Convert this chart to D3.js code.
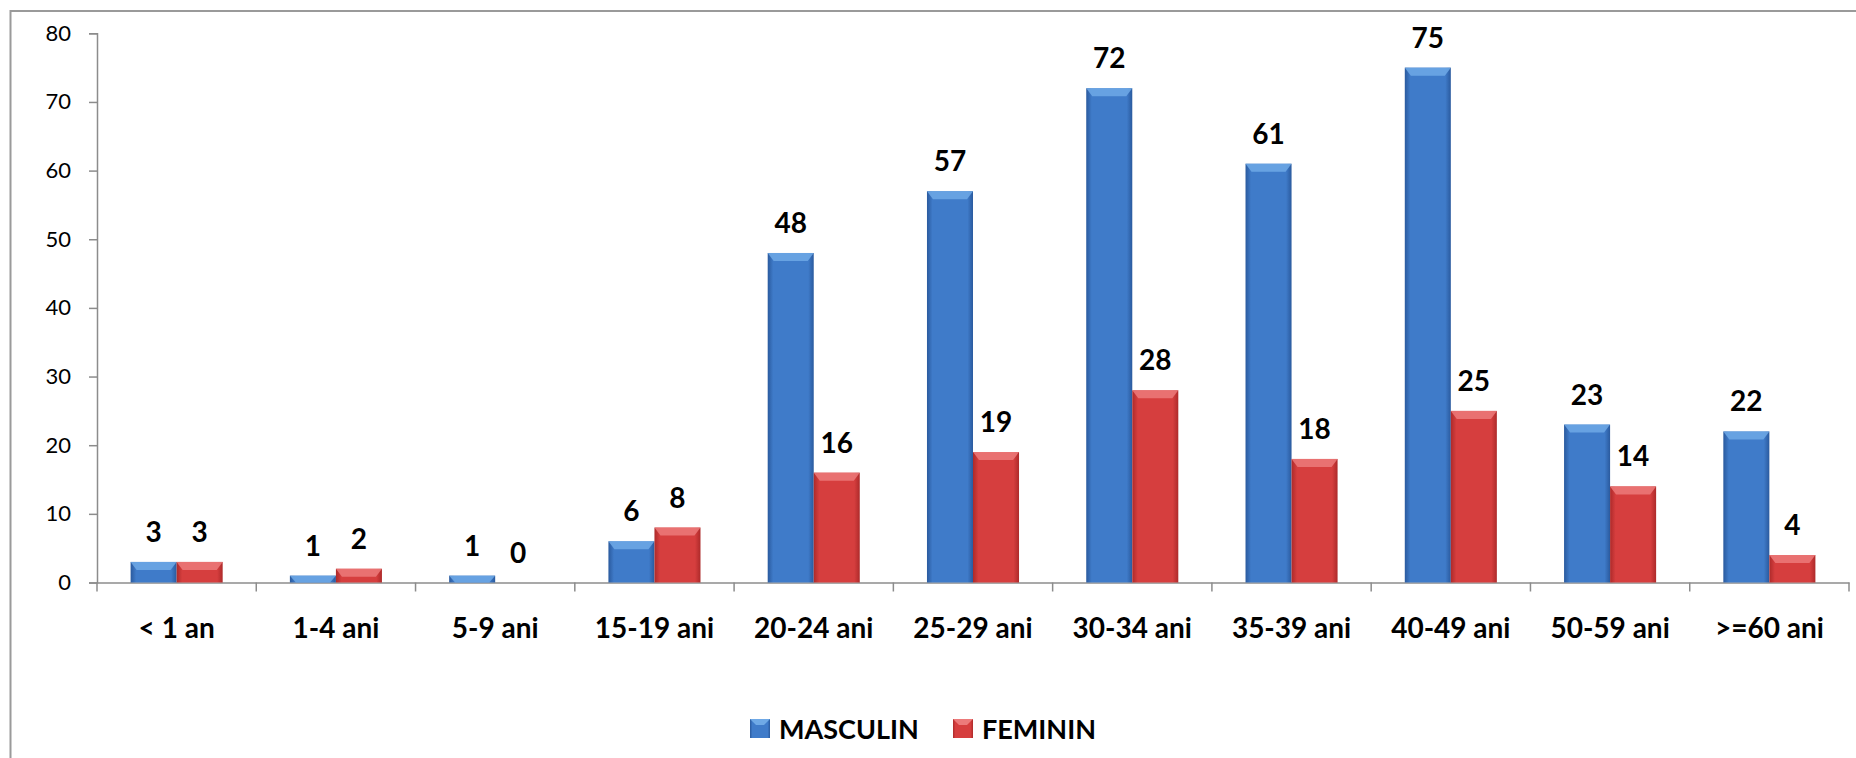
<!DOCTYPE html>
<html>
<head>
<meta charset="utf-8">
<script src="https://cdn.jsdelivr.net/npm/d3@7"></script>
<style>
  html, body { margin: 0; padding: 0; background: #fff; }
  svg { display: block; }
  text { font-family: Lato, "Open Sans", sans-serif; fill: #000; }
</style>
</head>
<body>
<svg id="chart" width="1856" height="758"></svg>
<script>
const categories = ["< 1 an", "1-4 ani", "5-9 ani", "15-19 ani", "20-24 ani", "25-29 ani", "30-34 ani", "35-39 ani", "40-49 ani", "50-59 ani", ">=60 ani"];
const seriesNames = ["MASCULIN", "FEMININ"];
const masculin = [3, 1, 1, 6, 48, 57, 72, 61, 75, 23, 22];
const feminin  = [3, 2, 0, 8, 16, 19, 28, 18, 25, 14, 4];
const yTicks = [0, 10, 20, 30, 40, 50, 60, 70, 80];

const seriesValues = { "MASCULIN": masculin, "FEMININ": feminin };
const colors = {
  "MASCULIN": { edge: "#2a5a9e", mid: "#3f7bc9", cap: "#6fa9e6", id: "gBlue" },
  "FEMININ":  { edge: "#ad2a2a", mid: "#d63e3e", cap: "#ec7a7a", id: "gRed" }
};

const svg = d3.select("#chart");
const W = 1856, H = 758;

// outer border (extends beyond right/bottom edges)
svg.append("rect").attr("x", 10.5).attr("y", 11).attr("width", W).attr("height", H)
  .attr("fill", "none").attr("stroke", "#9a9a9a").attr("stroke-width", 2);

const defs = svg.append("defs");
Object.values(colors).forEach(c => {
  const g = defs.append("linearGradient").attr("id", c.id).attr("x1", "0").attr("x2", "1").attr("y1", "0").attr("y2", "0");
  g.append("stop").attr("offset", "0%").attr("stop-color", c.edge);
  g.append("stop").attr("offset", "12%").attr("stop-color", c.mid);
  g.append("stop").attr("offset", "88%").attr("stop-color", c.mid);
  g.append("stop").attr("offset", "100%").attr("stop-color", c.edge);
});

const x0 = 97, x1 = 1849, y0 = 582.5, yTop = 33.3;
const x = d3.scaleBand().domain(categories).range([x0, x1]).paddingInner(0).paddingOuter(0);
const y = d3.scaleLinear().domain([0, 80]).range([y0, yTop]);
const barW = x.bandwidth() * 0.289;
const xs = d3.scaleBand().domain(seriesNames)
  .range([x.bandwidth() / 2 - barW, x.bandwidth() / 2 + barW]).padding(0);

// Y axis
const yAxis = d3.axisLeft(y).tickValues(yTicks).tickSize(8).tickPadding(18);
const gy = svg.append("g").attr("transform", `translate(${x0},0)`).call(yAxis);
gy.select(".domain").attr("stroke", "#8c8c8c").attr("stroke-width", 1.5);
gy.selectAll(".tick line").attr("stroke", "#8c8c8c").attr("stroke-width", 1.5);
gy.selectAll(".tick text").style("font-size", "22px").style("font-family", "Lato, sans-serif").attr("fill", "#000");

// X axis
const xAxis = d3.axisBottom(x).tickSize(0).tickPadding(0);
const gx = svg.append("g").attr("transform", `translate(0,${y0})`).call(xAxis);
gx.select(".domain").attr("stroke", "#8c8c8c").attr("stroke-width", 1.5);
gx.selectAll(".tick text").attr("dy", null).attr("y", 55)
  .style("font-size", "28px").style("font-weight", "bold").style("font-family", "Lato, sans-serif").attr("fill", "#000");
// category boundary ticks
const bounds = categories.map(c => x(c)).concat([x1]);
svg.append("g").selectAll("line").data(bounds).join("line")
  .attr("x1", d => d).attr("x2", d => d).attr("y1", y0).attr("y2", y0 + 9)
  .attr("stroke", "#8c8c8c").attr("stroke-width", 1.5);

// bars
const data = [];
categories.forEach((c, i) => seriesNames.forEach(s => data.push({ c, s, v: seriesValues[s][i] })));

const gb = svg.append("g");
data.forEach(d => {
  const bx = x(d.c) + xs(d.s), bw = xs.bandwidth();
  const by = y(d.v), bh = y0 - by;
  if (d.v <= 0) return;
  const col = colors[d.s];
  gb.append("rect").attr("x", bx).attr("y", by).attr("width", bw).attr("height", bh)
    .attr("fill", `url(#${col.id})`);
  const capH = Math.min(8, bh);
  const inset = Math.min(6, bw / 4);
  gb.append("path")
    .attr("d", `M${bx},${by} L${bx + bw},${by} L${bx + bw - inset},${by + capH} L${bx + inset},${by + capH} Z`)
    .attr("fill", col.cap).attr("opacity", 0.85);
});

// data labels
svg.append("g").selectAll("text").data(data).join("text")
  .attr("x", d => x(d.c) + xs(d.s) + xs.bandwidth() / 2)
  .attr("y", d => y(d.v) - 20)
  .attr("text-anchor", "middle")
  .style("font-size", "28px").style("font-weight", "bold")
  .text(d => d.v);

// legend
const legend = svg.append("g");
const legItems = [{ s: "MASCULIN", x: 750 }, { s: "FEMININ", x: 953 }];
legItems.forEach(it => {
  const col = colors[it.s];
  legend.append("rect").attr("x", it.x).attr("y", 719).attr("width", 20).attr("height", 19)
    .attr("fill", `url(#${col.id})`);
  legend.append("path").attr("d", `M${it.x},719 L${it.x + 20},719 L${it.x + 14},725 L${it.x + 6},725 Z`)
    .attr("fill", col.cap);
  legend.append("text").attr("x", it.x + 29).attr("y", 739)
    .style("font-size", "27px").style("font-weight", "bold").text(it.s);
});
</script>
</body>
</html>
